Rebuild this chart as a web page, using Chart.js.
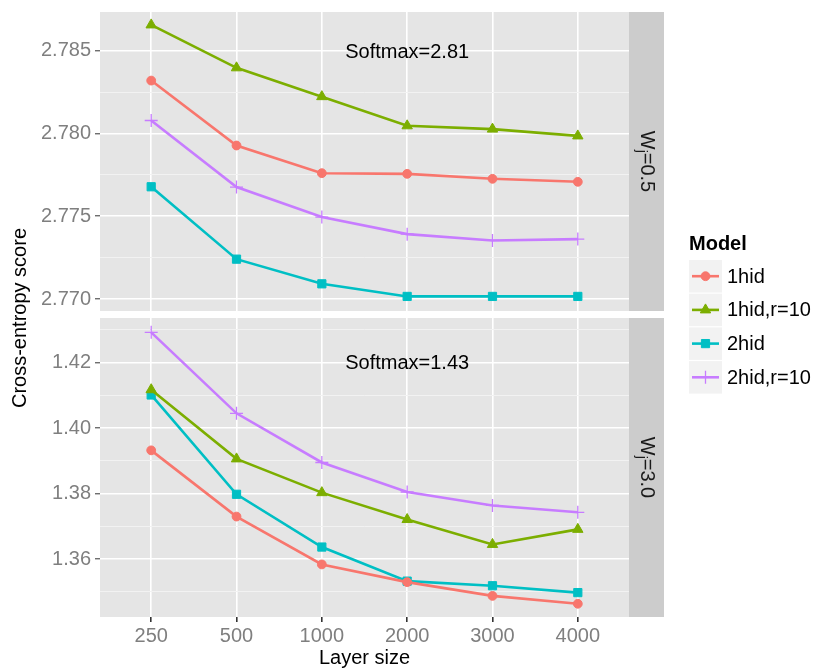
<!DOCTYPE html>
<html>
<head>
<meta charset="utf-8">
<script src="https://cdn.jsdelivr.net/npm/chart.js@4.4.1/dist/chart.umd.min.js"></script>
<style>
    html, body { margin: 0; padding: 0; background: #fff; }
    #wrap { position: relative; width: 815px; height: 670px; }
    #wrap canvas { position: absolute; left: 0; top: 0; }
</style>
</head>
<body>
<div id="wrap">
    <canvas id="topChart" width="815" height="670"></canvas>
    <canvas id="bottomChart" width="815" height="670"></canvas>
</div>
<script>
// Datos
const layerSizes = ['250', '500', '1000', '2000', '3000', '4000'];
const modelNames = ['1hid', '1hid,r=10', '2hid', '2hid,r=10'];

// panel W_j = 0.5
const top1hid    = [2.78319, 2.77927, 2.77760, 2.77756, 2.77726, 2.77708];
const top1hidR10 = [2.78655, 2.78396, 2.78222, 2.78046, 2.78026, 2.77985];
const top2hid    = [2.77678, 2.77241, 2.77092, 2.77016, 2.77016, 2.77016];
const top2hidR10 = [2.78078, 2.77676, 2.77495, 2.77392, 2.77354, 2.77362];

// panel W_j = 3.0
const bot1hid    = [1.3932, 1.3730, 1.3584, 1.3530, 1.3488, 1.3464];
const bot1hidR10 = [1.4117, 1.3906, 1.3803, 1.3721, 1.3645, 1.3691];
const bot2hid    = [1.4101, 1.3798, 1.3637, 1.3533, 1.3519, 1.3498];
const bot2hidR10 = [1.4292, 1.4045, 1.3895, 1.3805, 1.3764, 1.3743];

const topMajor = [2.770, 2.775, 2.780, 2.785];
const topMinor = [2.7725, 2.7775, 2.7825];
const botMajor = [1.36, 1.38, 1.40, 1.42];
const botMinor = [1.35, 1.37, 1.39, 1.41, 1.43];

const stripValues = ['0.5', '3.0'];
const softmaxText = ['Softmax=2.81', 'Softmax=1.43'];
const softmaxAt = [{ x: 3, y: 2.7849 }, { x: 3, y: 1.4196 }];

// estilos
const FONT = "'Liberation Sans', Arial, sans-serif";
const colors = ['#F8766D', '#7CAE00', '#00BFC4', '#C77CFF'];
const shapes = ['circle', 'triangle', 'rect', 'cross'];
const radii = [4.4, 6, 5.8, 6.5];

function makeDatasets(lists) {
    return modelNames.map((name, i) => ({
        label: name,
        data: lists[i].map((v, j) => ({ x: j, y: v })),
        borderColor: colors[i],
        backgroundColor: colors[i],
        pointBackgroundColor: colors[i],
        pointBorderColor: colors[i],
        pointStyle: shapes[i],
        pointRadius: radii[i],
        pointBorderWidth: i === 3 ? 1.3 : 1,
        borderWidth: 2.6,
        tension: 0
    }));
}

function drawStrip(chart, value) {
    const { ctx, chartArea } = chart;
    const x0 = chartArea.right, w = 35;
    ctx.save();
    ctx.fillStyle = '#CCCCCC';
    ctx.fillRect(x0, chartArea.top, w, chartArea.bottom - chartArea.top);
    ctx.translate(x0 + w / 2, (chartArea.top + chartArea.bottom) / 2);
    ctx.rotate(Math.PI / 2);
    ctx.fillStyle = '#1A1A1A';
    ctx.textBaseline = 'middle';
    ctx.textAlign = 'left';
    const big = '20px ' + FONT, small = '14px ' + FONT;
    const rest = '=' + value;
    ctx.font = big;
    const wW = ctx.measureText('W').width;
    const wR = ctx.measureText(rest).width;
    ctx.font = small;
    const wj = ctx.measureText('j').width;
    let x = -(wW + wj + wR) / 2;
    ctx.font = big; ctx.fillText('W', x, 0); x += wW;
    ctx.font = small; ctx.fillText('j', x, 6); x += wj;
    ctx.font = big; ctx.fillText(rest, x, 0);
    ctx.restore();
}

function drawSoftmax(chart, idx) {
    const { ctx, scales } = chart;
    ctx.save();
    ctx.font = '20px ' + FONT;
    ctx.fillStyle = '#000';
    ctx.textAlign = 'center';
    ctx.textBaseline = 'middle';
    ctx.fillText(softmaxText[idx],
        scales.x.getPixelForValue(softmaxAt[idx].x),
        scales.y.getPixelForValue(softmaxAt[idx].y));
    ctx.restore();
}

function drawYTitle(chart) {
    const ctx = chart.ctx;
    ctx.save();
    ctx.translate(20, 318);
    ctx.rotate(-Math.PI / 2);
    ctx.font = '20px ' + FONT;
    ctx.fillStyle = '#000';
    ctx.textAlign = 'center';
    ctx.textBaseline = 'middle';
    ctx.fillText('Cross-entropy score', 0, 0);
    ctx.restore();
}

function drawLegend(chart) {
    const ctx = chart.ctx;
    ctx.save();
    ctx.font = 'bold 20px ' + FONT;
    ctx.fillStyle = '#000';
    ctx.textAlign = 'left';
    ctx.textBaseline = 'alphabetic';
    ctx.fillText('Model', 689, 250);
    modelNames.forEach((name, i) => {
        const top = 260 + i * 33.7;
        const cy = top + 16.2;
        ctx.fillStyle = '#F2F2F2';
        ctx.fillRect(689, top, 33, 32.5);
        ctx.strokeStyle = colors[i];
        ctx.lineWidth = 2.6;
        ctx.beginPath();
        ctx.moveTo(692, cy);
        ctx.lineTo(719, cy);
        ctx.stroke();
        ctx.fillStyle = colors[i];
        ctx.lineWidth = i === 3 ? 1.3 : 1;
        Chart.helpers.drawPoint(ctx, { pointStyle: shapes[i], radius: radii[i], borderWidth: i === 3 ? 1.3 : 1 }, 705.5, cy);
        ctx.fillStyle = '#000';
        ctx.font = '20px ' + FONT;
        ctx.textBaseline = 'middle';
        ctx.fillText(name, 727, cy + 1);
    });
    ctx.restore();
}

const facetPlugin = {
    id: 'facet',
    beforeDraw(chart) {
        const { ctx, chartArea } = chart;
        ctx.save();
        ctx.fillStyle = '#E5E5E5';
        ctx.fillRect(chartArea.left, chartArea.top, chartArea.right - chartArea.left, chartArea.bottom - chartArea.top);
        ctx.restore();
    },
    afterDraw(chart, args, opts) {
        drawStrip(chart, stripValues[opts.panel]);
        drawSoftmax(chart, opts.panel);
        if (opts.panel === 0) {
            drawYTitle(chart);
            drawLegend(chart);
        }
    }
};

function yAxis(range, major, minor, digits) {
    const all = [...major, ...minor].sort((a, b) => a - b);
    const isMajor = (v) => major.some(m => Math.abs(m - v) < 1e-9);
    return {
        type: 'linear',
        min: range[0],
        max: range[1],
        border: { display: false },
        afterBuildTicks: (scale) => { scale.ticks = all.map(v => ({ value: v })); },
        afterFit: (scale) => {
            scale.width = 100;
            scale.paddingTop = 0;
            scale.paddingBottom = 0;
        },
        grid: {
            color: (c) => isMajor(c.tick.value) ? '#FFFFFF' : '#F2F2F2',
            lineWidth: (c) => isMajor(c.tick.value) ? 1.6 : 1,
            tickColor: (c) => isMajor(c.tick.value) ? '#333333' : 'rgba(0,0,0,0)',
            tickLength: 5,
            tickWidth: 1
        },
        ticks: {
            color: '#7F7F7F',
            font: { family: FONT, size: 20 },
            padding: 4,
            callback: (v) => isMajor(v) ? v.toFixed(digits) : ''
        }
    };
}

function xAxis(showLabels) {
    return {
        type: 'linear',
        min: -0.6,
        max: 5.6,
        border: { display: false },
        afterBuildTicks: (scale) => { scale.ticks = layerSizes.map((s, i) => ({ value: i })); },
        afterFit: (scale) => {
            scale.height = showLabels ? 53 : 0;
            scale.paddingLeft = 0;
            scale.paddingRight = 0;
        },
        grid: {
            color: '#FFFFFF',
            lineWidth: 1.6,
            drawTicks: showLabels,
            tickColor: '#333333',
            tickLength: 5
        },
        ticks: {
            display: showLabels,
            color: '#7F7F7F',
            font: { family: FONT, size: 20 },
            padding: 2,
            maxRotation: 0,
            callback: (v) => layerSizes[v]
        },
        title: {
            display: showLabels,
            text: 'Layer size',
            color: '#000',
            font: { family: FONT, size: 20 },
            padding: { top: 0, bottom: 0 }
        }
    };
}

function buildChart(id, panel, lists, range, major, minor, digits) {
    const ctx = document.getElementById(id).getContext('2d');
    return new Chart(ctx, {
        type: 'line',
        data: { datasets: makeDatasets(lists) },
        options: {
            responsive: false,
            animation: false,
            events: [],
            layout: {
                padding: panel === 0
                    ? { left: 0, top: 12, right: 186, bottom: 359 }
                    : { left: 0, top: 318, right: 186, bottom: 0 }
            },
            plugins: {
                legend: { display: false },
                tooltip: { enabled: false },
                facet: { panel: panel }
            },
            scales: {
                x: xAxis(panel === 1),
                y: yAxis(range, major, minor, digits)
            }
        },
        plugins: [facetPlugin]
    });
}

document.addEventListener('DOMContentLoaded', () => {
    buildChart('topChart', 0, [top1hid, top1hidR10, top2hid, top2hidR10],
        [2.76928, 2.78733], topMajor, topMinor, 3);
    buildChart('bottomChart', 1, [bot1hid, bot1hidR10, bot2hid, bot2hidR10],
        [1.34236, 1.43358], botMajor, botMinor, 2);
});
</script>
</body>
</html>
